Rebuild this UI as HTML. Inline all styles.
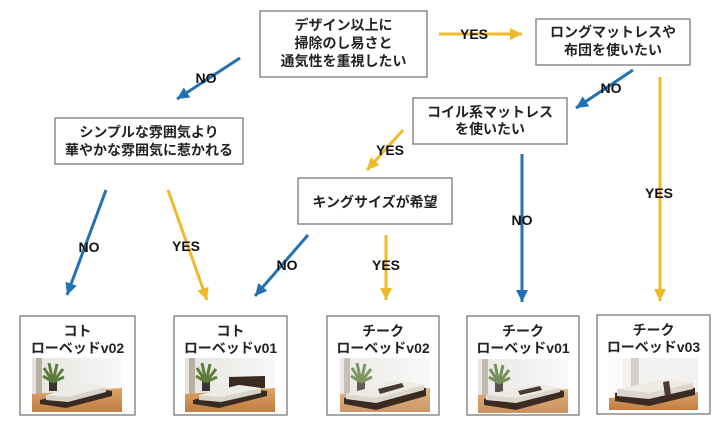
<!DOCTYPE html>
<html><head><meta charset="utf-8">
<style>
html,body{margin:0;padding:0;background:#fff;}
svg{display:block;}
.t{font-family:"Liberation Sans","Noto Sans CJK JP",sans-serif;font-weight:bold;font-size:14px;fill:#222;text-anchor:middle;}
.l{font-family:"Liberation Sans",sans-serif;font-weight:bold;font-size:14px;fill:#111;text-anchor:middle;}
.box{fill:#fff;stroke:#7a7a7a;stroke-width:1.3;}
.b{stroke:#2271b3;stroke-width:3;fill:none;}
.y{stroke:#f0b92a;stroke-width:3;fill:none;}
</style></head>
<body>
<svg width="725" height="425" viewBox="0 0 725 425" xmlns="http://www.w3.org/2000/svg">
<defs>
<marker id="mb" markerUnits="userSpaceOnUse" markerWidth="14" markerHeight="12" refX="12" refY="6" orient="auto"><path d="M0,0 L12,6 L0,12 Z" fill="#2271b3"/></marker>
<marker id="my" markerUnits="userSpaceOnUse" markerWidth="14" markerHeight="12" refX="12" refY="6" orient="auto"><path d="M0,0 L12,6 L0,12 Z" fill="#f0b92a"/></marker>
<linearGradient id="wall" x1="0" y1="0" x2="1" y2="0"><stop offset="0" stop-color="#e6e3df"/><stop offset="1" stop-color="#f8f8f7"/></linearGradient>
<linearGradient id="floor" x1="0" y1="0" x2="0" y2="1"><stop offset="0" stop-color="#dca468"/><stop offset="1" stop-color="#c27d42"/></linearGradient>
<g id="room">
<rect x="0" y="0" width="90" height="54" fill="url(#wall)"/>
<rect x="4" y="0" width="6" height="36" fill="#b9afa3"/>
<path d="M0,36 L90,30 L90,54 L0,54 Z" fill="url(#floor)"/>
<rect x="17" y="22" width="8" height="11" fill="#3a3430"/>
<path d="M21,24 L12,10 M21,24 L17,5 M21,24 L25,6 M21,24 L31,11 M21,24 L11,18 M21,24 L32,19" stroke="#5d7d3c" stroke-width="3"/>
</g>
</defs>

<!-- boxes -->
<rect class="box" x="260" y="11" width="167" height="66"/>
<text class="t" x="343.5" y="30">デザイン以上に</text>
<text class="t" x="343.5" y="48">掃除のし易さと</text>
<text class="t" x="343.5" y="66">通気性を重視したい</text>

<rect class="box" x="536" y="19" width="154" height="46"/>
<text class="t" x="613" y="37">ロングマットレスや</text>
<text class="t" x="613" y="55">布団を使いたい</text>

<rect class="box" x="55" y="118" width="188" height="46"/>
<text class="t" x="149" y="137">シンプルな雰囲気より</text>
<text class="t" x="149" y="155">華やかな雰囲気に惹かれる</text>

<rect class="box" x="413" y="98" width="154" height="46"/>
<text class="t" x="490" y="117">コイル系マットレス</text>
<text class="t" x="490" y="134">を使いたい</text>

<rect class="box" x="298" y="178" width="154" height="46"/>
<text class="t" x="375" y="207">キングサイズが希望</text>

<!-- arrows -->
<path class="y" d="M439,34 L522,34" marker-end="url(#my)"/>
<path class="b" d="M240,58 L177,99" marker-end="url(#mb)"/>
<path class="b" d="M633,70 L576,108" marker-end="url(#mb)"/>
<path class="y" d="M660,77 L660,301" marker-end="url(#my)"/>
<path class="y" d="M403,130 L367,170" marker-end="url(#my)"/>
<path class="b" d="M522,154 L522,302" marker-end="url(#mb)"/>
<path class="y" d="M386,235 L386,300" marker-end="url(#my)"/>
<path class="b" d="M308,235 L255,296" marker-end="url(#mb)"/>
<path class="b" d="M106,190 L67,295" marker-end="url(#mb)"/>
<path class="y" d="M168,190 L207,300" marker-end="url(#my)"/>

<!-- labels -->
<text class="l" x="474" y="39">YES</text>
<text class="l" x="206" y="83">NO</text>
<text class="l" x="611" y="93">NO</text>
<text class="l" x="659" y="198">YES</text>
<text class="l" x="390" y="155">YES</text>
<text class="l" x="522" y="225">NO</text>
<text class="l" x="386" y="270">YES</text>
<text class="l" x="287" y="270">NO</text>
<text class="l" x="89" y="252">NO</text>
<text class="l" x="186" y="251">YES</text>

<!-- bottom boxes -->
<rect class="box" x="20" y="316" width="115" height="99"/>
<text class="t" x="77.5" y="336">コト</text>
<text class="t" x="77.5" y="353">ローベッドv02</text>
<g transform="translate(32,358)">
<use href="#room"/>
<path d="M8,42 L56,30 L80,33 L80,38 L34,50 L8,46 Z" fill="#3a2a22"/>
<path d="M14,37 L54,26 L74,29 L74,34 L36,44 L14,42 Z" fill="#d9d4cb"/>
<path d="M14,37 L54,26 L74,29 L36,39 Z" fill="#eeece7"/>
</g>

<rect class="box" x="174" y="316" width="113" height="99"/>
<text class="t" x="230.5" y="336">コト</text>
<text class="t" x="230.5" y="353">ローベッドv01</text>
<g transform="translate(185,358)">
<use href="#room"/>
<path d="M44,19 L80,18 L80,30 L44,33 Z" fill="#3a2a22"/>
<path d="M8,42 L56,30 L82,33 L82,38 L34,50 L8,46 Z" fill="#3a2a22"/>
<path d="M14,37 L54,27 L76,30 L76,35 L36,44 L14,42 Z" fill="#d9d4cb"/>
<path d="M14,37 L54,27 L76,30 L36,39 Z" fill="#eeece7"/>
</g>

<rect class="box" x="327" y="316" width="112" height="99"/>
<text class="t" x="383" y="336">チーク</text>
<text class="t" x="383" y="353">ローベッドv02</text>
<g transform="translate(340,358)">
<use href="#room"/>
<rect x="0" y="0" width="90" height="54" fill="#fff" opacity="0.2"/>
<path d="M4,40 L58,26 L86,30 L86,38 L36,52 L4,46 Z" fill="#3a2a22"/>
<path d="M6,36 L56,23 L84,27 L84,32 L36,45 L6,41 Z" fill="#dcd7ce"/>
<path d="M6,36 L56,23 L84,27 L36,40 Z" fill="#eeebe5"/>
<path d="M38,31 L62,25 L64,29 L40,36 Z" fill="#4a3a30"/>
</g>

<rect class="box" x="467" y="316" width="112" height="99"/>
<text class="t" x="523" y="336">チーク</text>
<text class="t" x="523" y="353">ローベッドv01</text>
<g transform="translate(478,359)">
<use href="#room"/>
<rect x="0" y="0" width="90" height="54" fill="#fff" opacity="0.15"/>
<path d="M6,40 L58,28 L86,32 L86,38 L38,51 L6,46 Z" fill="#3a2a22"/>
<path d="M8,36 L56,25 L82,29 L82,33 L38,44 L8,41 Z" fill="#dcd7ce"/>
<path d="M8,36 L56,25 L82,29 L38,39 Z" fill="#eeebe5"/>
<path d="M40,32 L62,27 L64,31 L42,36 Z" fill="#4a3a30"/>
</g>

<rect class="box" x="597" y="315" width="113" height="99"/>
<text class="t" x="653.5" y="335">チーク</text>
<text class="t" x="653.5" y="352">ローベッドv03</text>
<g transform="translate(609,358)">
<rect x="0" y="0" width="89" height="52" fill="#f3f2f0"/>
<rect x="0" y="0" width="14" height="40" fill="#fbfbfb"/>
<rect x="22" y="0" width="8" height="30" fill="#d5d0ca"/>
<path d="M0,40 L89,34 L89,52 L0,52 Z" fill="url(#floor)"/>
<path d="M6,35 L60,26 L86,30 L86,37 L40,48 L6,43 Z" fill="#3a2a22"/>
<path d="M8,31 L58,21 L84,25 L84,31 L40,41 L8,38 Z" fill="#dcd7ce"/>
<path d="M8,31 L58,21 L84,25 L40,35 Z" fill="#eeebe5"/>
<path d="M54,24 L60,23 L62,37 L56,38 Z" fill="#4a3a30"/>
</g>
</svg>
</body></html>
